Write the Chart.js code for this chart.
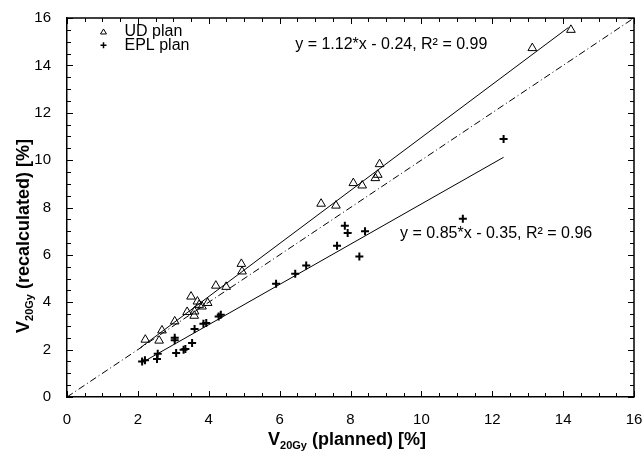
<!DOCTYPE html>
<html lang="en">
<head>
    <meta charset="UTF-8">
    <title>V20Gy recalculated vs planned</title>
    <script src="https://cdn.jsdelivr.net/npm/chart.js"></script>
    <style>
        body { margin: 0; background: #fff; }
        #wrap { width: 644px; height: 453px; }
    </style>
</head>
<body>
<div id="wrap"><canvas id="v20Chart" width="644" height="453"></canvas></div>

<script>
    // UD plan (triangles)
    const udX = [2.21, 2.60, 2.68, 3.04, 3.39, 3.60, 3.59, 3.50, 3.68, 3.73, 3.81, 3.97, 4.20, 4.49, 4.92, 4.94, 7.17, 7.59, 8.08, 8.33, 8.70, 8.77, 8.82, 13.13, 14.22];
    const udY = [2.42, 2.38, 2.81, 3.19, 3.59, 3.61, 3.43, 4.24, 4.03, 3.89, 3.82, 3.97, 4.70, 4.65, 5.62, 5.30, 8.16, 8.08, 9.03, 8.93, 9.24, 9.38, 9.83, 14.73, 15.50];

    // EPL plan (crosses)
    const eplX = [2.12, 2.20, 2.56, 2.54, 3.04, 3.04, 3.08, 3.29, 3.34, 3.53, 3.60, 3.85, 3.93, 4.28, 4.34, 5.90, 6.44, 6.75, 7.62, 7.84, 7.92, 8.41, 8.25, 11.17, 12.32];
    const eplY = [1.50, 1.55, 1.83, 1.60, 2.40, 2.50, 1.86, 2.00, 2.03, 2.28, 2.87, 3.09, 3.12, 3.40, 3.47, 4.78, 5.20, 5.55, 6.38, 7.23, 6.92, 7.00, 5.93, 7.52, 10.89];

    // fit lines (end points) and identity line
    const udFitX = [2.07, 14.15];
    const udFitY = [2.08, 15.60];
    const eplFitX = [2.16, 12.32];
    const eplFitY = [1.49, 10.12];
    const idX = [0, 16];
    const idY = [0, 16];

    const axisMin = 0, axisMax = 16, majorStep = 2, minorStep = 0.5;
    const udLabel = "y = 1.12*x - 0.24, R\u00B2 = 0.99";
    const eplLabel = "y = 0.85*x - 0.35, R\u00B2 = 0.96";
    const legendNames = ["UD plan", "EPL plan"];

    const pts = (xs, ys) => xs.map((x, i) => ({ x: x, y: ys[i] }));
    const FONT = '"Liberation Sans", Arial, sans-serif';

    // ticks inside, frame, legend, equations, axis titles
    const decorPlugin = {
        id: 'decor',
        afterDraw(chart) {
            const c = chart.ctx, a = chart.chartArea;
            const xs = chart.scales.x, ys = chart.scales.y;
            c.save();
            c.strokeStyle = '#000';
            c.lineWidth = 1.5;
            c.beginPath();
            c.moveTo(a.left, a.top); c.lineTo(a.right, a.top); c.lineTo(a.right, a.bottom);
            c.stroke();

            c.lineWidth = 1;
            c.beginPath();
            for (let v = axisMin; v <= axisMax + 1e-9; v += minorStep) {
                const len = (Math.abs(v / majorStep - Math.round(v / majorStep)) < 1e-6) ? 6 : 4;
                const px = Math.round(xs.getPixelForValue(v)) + 0.5;
                const py = Math.round(ys.getPixelForValue(v)) + 0.5;
                c.moveTo(px, a.bottom); c.lineTo(px, a.bottom - len);
                c.moveTo(px, a.top); c.lineTo(px, a.top + len);
                c.moveTo(a.left, py); c.lineTo(a.left + len, py);
                c.moveTo(a.right, py); c.lineTo(a.right - len, py);
            }
            c.stroke();

            // legend
            c.fillStyle = '#000';
            c.font = '16px ' + FONT;
            c.textBaseline = 'middle';
            c.textAlign = 'left';
            const lx = xs.getPixelForValue(1.03);
            const ly1 = ys.getPixelForValue(15.41), ly2 = ys.getPixelForValue(14.85);
            c.lineWidth = 1;
            c.beginPath();
            c.moveTo(lx, ly1 - 3); c.lineTo(lx + 3, ly1 + 2); c.lineTo(lx - 3, ly1 + 2); c.closePath();
            c.stroke();
            c.lineWidth = 1.5;
            c.beginPath();
            c.moveTo(lx - 3, ly2); c.lineTo(lx + 3, ly2);
            c.moveTo(lx, ly2 - 3); c.lineTo(lx, ly2 + 3);
            c.stroke();
            c.fillText(legendNames[0], lx + 21, ly1);
            c.fillText(legendNames[1], lx + 21, ly2);

            // equations
            c.fillText(udLabel, xs.getPixelForValue(6.44), ys.getPixelForValue(14.86));
            c.fillText(eplLabel, xs.getPixelForValue(9.40), ys.getPixelForValue(6.89));

            // axis titles with subscript
            const drawTitle = (rest, cx, cy, rot) => {
                c.save();
                c.translate(cx, cy);
                c.rotate(rot);
                const big = 'bold 18px ' + FONT, small = 'bold 11px ' + FONT;
                c.font = big; const w1 = c.measureText('V').width, w3 = c.measureText(rest).width;
                c.font = small; const w2 = c.measureText('20Gy').width;
                let x0 = -(w1 + w2 + w3) / 2;
                c.textAlign = 'left';
                c.font = big; c.fillText('V', x0, 0);
                c.font = small; c.fillText('20Gy', x0 + w1, 6);
                c.font = big; c.fillText(rest, x0 + w1 + w2, 0);
                c.restore();
            };
            drawTitle(' (planned) [%]', 347, 440, 0);
            drawTitle(' (recalculated) [%]', 24, 236, -Math.PI / 2);
            c.restore();
        }
    };

    const ctx = document.getElementById('v20Chart').getContext('2d');
    new Chart(ctx, {
        type: 'scatter',
        data: {
            datasets: [
                {
                    label: 'identity',
                    data: pts(idX, idY),
                    showLine: true,
                    borderColor: '#000',
                    borderWidth: 1,
                    borderDash: [7, 3, 1, 3],
                    pointRadius: 0
                },
                {
                    label: 'UD fit',
                    data: pts(udFitX, udFitY),
                    showLine: true,
                    borderColor: '#000',
                    borderWidth: 1,
                    pointRadius: 0
                },
                {
                    label: 'EPL fit',
                    data: pts(eplFitX, eplFitY),
                    showLine: true,
                    borderColor: '#000',
                    borderWidth: 1,
                    pointRadius: 0
                },
                {
                    label: legendNames[0],
                    data: pts(udX, udY),
                    pointStyle: 'triangle',
                    pointRadius: 5,
                    pointBorderWidth: 1,
                    borderColor: '#000',
                    backgroundColor: 'rgba(255,255,255,0)'
                },
                {
                    label: legendNames[1],
                    data: pts(eplX, eplY),
                    pointStyle: 'cross',
                    pointRadius: 4,
                    pointBorderWidth: 2,
                    borderColor: '#000'
                }
            ]
        },
        options: {
            responsive: false,
            animation: false,
            layout: { padding: { top: 18, right: 10, left: 0, bottom: 0 } },
            plugins: { legend: { display: false }, tooltip: { enabled: false } },
            scales: {
                x: {
                    type: 'linear', min: axisMin, max: axisMax,
                    grid: { display: false },
                    border: { display: true, color: '#000', width: 1.5 },
                    ticks: { stepSize: majorStep, color: '#000', padding: 6, font: { size: 15, family: FONT } },
                    afterFit(s) { s.height = 56; s.paddingLeft = 0; s.paddingRight = 0; }
                },
                y: {
                    type: 'linear', min: axisMin, max: axisMax,
                    grid: { display: false },
                    border: { display: true, color: '#000', width: 1.5 },
                    ticks: { stepSize: majorStep, color: '#000', padding: 8, font: { size: 15, family: FONT } },
                    afterFit(s) { s.width = 67; s.paddingTop = 0; s.paddingBottom = 0; }
                }
            }
        },
        plugins: [decorPlugin]
    });
</script>
</body>
</html>
